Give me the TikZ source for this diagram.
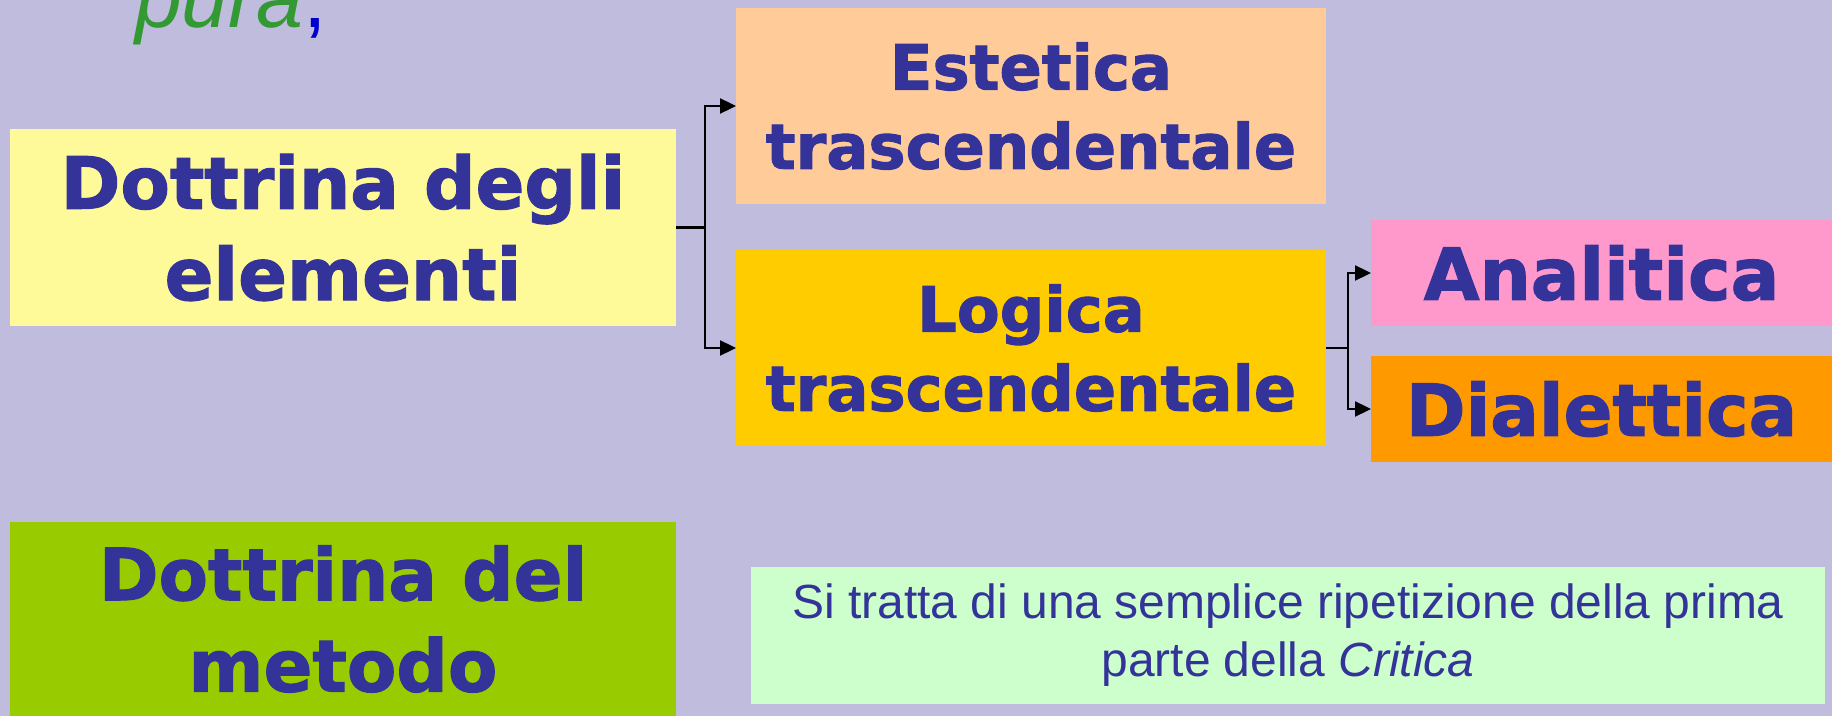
\documentclass[tikz,border=0pt]{standalone}
\usepackage{fontspec}
\setmainfont{Liberation Sans}
\newfontfamily\heavyfont{DejaVu Sans}[BoldFeatures={FakeBold=1.6}]
\usetikzlibrary{calc,arrows.meta}
\definecolor{slidebg}{HTML}{C0BCDE}
\definecolor{ink}{HTML}{333399}
\definecolor{puragreen}{HTML}{339933}
\definecolor{commablue}{HTML}{0000CC}
\tikzset{%
  >={Triangle[length=0.32cm,width=0.3cm]}, % filled arrow heads
  inner sep=0pt,%
  outer sep=0pt,%
  doctrine box/.style={align=center,text=ink,minimum width=13.32cm,
    font=\heavyfont\bfseries\fontsize{41}{52}\selectfont},%
  part box/.style={align=center,text=ink,minimum width=11.8cm,
    minimum height=3.92cm,font=\heavyfont\bfseries\fontsize{35.5}{45}\selectfont},%
  sub box/.style={align=center,text=ink,minimum width=9.22cm,
    minimum height=2.12cm,font=\heavyfont\bfseries\fontsize{41}{52}\selectfont},%
  note box/.style={align=center,text=ink,minimum width=21.48cm,
    minimum height=2.74cm,font=\fontsize{27.3}{33}\selectfont}%
}

\begin{document}
\begin{tikzpicture}[x=0.02cm,y=-0.02cm,line width=1.14pt] % CRITICA

\fill[slidebg] (0,0) rectangle (1832,716);
\useasboundingbox (0,0) rectangle (1832,716);

% title remnant, cut at the top
\node[anchor=base west,text=puragreen,font=\itshape\fontsize{48}{52}\selectfont]
  (pura) at (135,28) {pura\upshape\textcolor{commablue}{,}};

\node[doctrine box,fill=yellow!40!white,minimum height=3.94cm] (elementi)
  at (343,227.5) {Dottrina degli\\elementi};
\node[doctrine box,fill={rgb,255:red,153;green,204;blue,0},minimum height=3.88cm]
  (metodo) at (343,619) {Dottrina del\\metodo};

\node[part box,fill={rgb,255:red,255;green,204;blue,153}] (estetica)
  at (1031,106) {Estetica\\trascendentale};
\node[part box,fill={rgb,255:red,255;green,204;blue,0}] (logica)
  at (1031,348) {Logica\\trascendentale};

\node[sub box,fill={rgb,255:red,255;green,153;blue,204}] (analitica)
  at (1601.5,273) {Analitica};
\node[sub box,fill={rgb,255:red,255;green,153;blue,0}] (dialettica)
  at (1601.5,409) {Dialettica};

\node[note box,fill={rgb,255:red,204;green,255;blue,204}] (nota)
  at (1288,635.5) {Si tratta di una semplice ripetizione della prima\\
  parte della \textit{Critica}};

\coordinate (fork1) at ($(elementi.east)+(29,0)$);
\coordinate (fork2) at ($(logica.east)+(22,0)$);

\draw[->] (elementi.east) -- (fork1) |- (estetica.west);
\draw[->] (fork1) |- (logica.west);
\draw[->] (logica.east) -- (fork2) |- (analitica.west);
\draw[->] (fork2) |- (dialettica.west);

\end{tikzpicture}
\end{document}
